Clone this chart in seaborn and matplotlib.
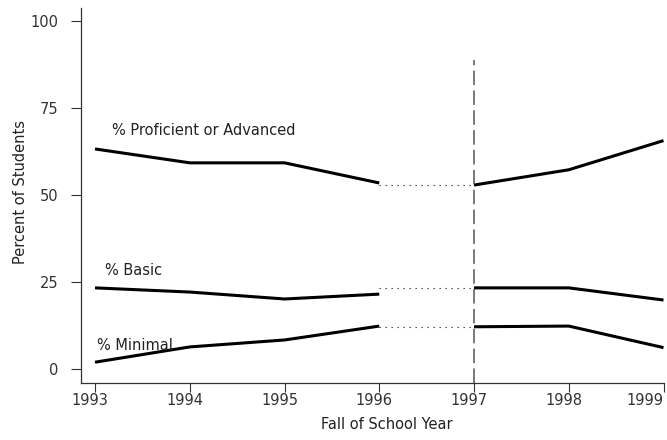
import matplotlib
matplotlib.use("Agg")
import matplotlib.pyplot as plt
import matplotlib.transforms as mtransforms
import seaborn as sns
import pandas as pd

# Achievement levels by fall of school year
years = [1993, 1994, 1995, 1996, 1997, 1998, 1999]
proficient = [63.3, 59.3, 59.3, 53.5, 52.9, 57.3, 65.7]
basic = [23.3, 22.1, 20.1, 21.5, 23.3, 23.3, 19.8]
minimal = [1.9, 6.3, 8.3, 12.3, 12.1, 12.3, 6.1]

series_labels = ["% Proficient or Advanced", "% Basic", "% Minimal"]
label_pos = [(1993.18, 67.3), (1993.11, 27.0), (1993.02, 5.4)]
break_year = 1997
y_ticks = [0, 25, 50, 75, 100]

sns.set_style("ticks")
plt.rcParams["font.family"] = ["DejaVu Sans"]
plt.rcParams["font.size"] = 10.5

rows = []
for name, vals in zip(series_labels, [proficient, basic, minimal]):
    for yr, v in zip(years, vals):
        seg = "before" if yr < break_year else "after"
        rows.append({"year": yr, "pct": v, "series": name, "segment": seg})
df = pd.DataFrame(rows)

fig = plt.figure(figsize=(6.67, 4.4), dpi=100)
ax = fig.add_axes([0.121, 0.130, 0.8745, 0.852])

# solid trend segments before and after the break
for (name, seg), part in df.groupby(["series", "segment"], sort=False):
    sns.lineplot(data=part, x="year", y="pct", ax=ax, color="black",
                 linewidth=2.2, solid_capstyle="butt", legend=False)

# dotted bridge across the break at the post-break level
for name, vals in zip(series_labels, [proficient, basic, minimal]):
    i = years.index(break_year)
    bridge = pd.DataFrame({"year": [years[i - 1], years[i]],
                           "pct": [vals[i], vals[i]]})
    sns.lineplot(data=bridge, x="year", y="pct", ax=ax, color="#333333",
                 linewidth=0.8, dashes=False, legend=False,
                 linestyle=(0, (1.2, 4.2)))

# vertical dashed break marker
ax.plot([break_year, break_year], [-4.03, 89], color="#555555",
        linewidth=1.1, linestyle=(0, (9.5, 3.5)))

for text, (x, y) in zip(series_labels, label_pos):
    ax.text(x, y, text, ha="left", va="baseline", color="#222222")

ax.set_xlim(1992.849, 1999.005)
ax.set_ylim(-4.03, 103.9)
ax.set_xticks(years)
ax.set_yticks(y_ticks)
ax.set_xlabel("Fall of School Year", color="#222222")
ax.set_ylabel("Percent of Students", color="#222222")
ax.xaxis.set_label_coords(0.525, -0.092)
ax.yaxis.set_label_coords(-0.090, 0.51)

ax.tick_params(axis="x", length=6.5, width=0.8, pad=0.5, colors="#333333")
ax.tick_params(axis="y", length=7, width=0.8, pad=9, colors="#333333")

# year labels sit slightly left of their ticks; the last one ends at its tick
shift = mtransforms.ScaledTranslation(-5 / 100, 0, fig.dpi_scale_trans)
xlabels = ax.get_xticklabels()
for lbl in xlabels[:-1]:
    lbl.set_transform(lbl.get_transform() + shift)
xlabels[-1].set_horizontalalignment("right")

for side in ["top", "right"]:
    ax.spines[side].set_visible(False)
for side in ["left", "bottom"]:
    ax.spines[side].set_color("#333333")
    ax.spines[side].set_linewidth(0.9)

fig.savefig("out.png", dpi=100)
